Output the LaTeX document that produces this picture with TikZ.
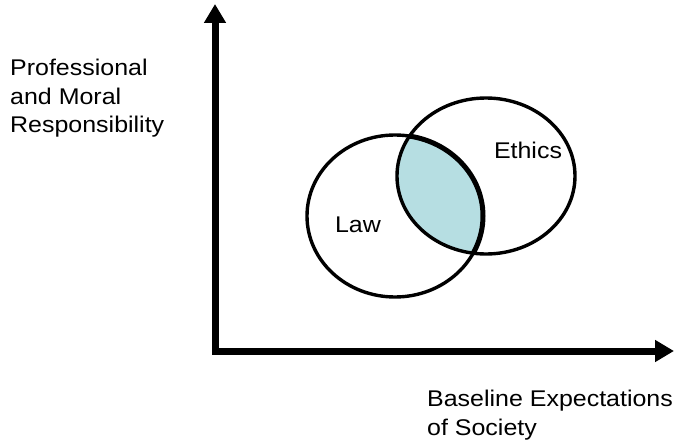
\documentclass[tikz,border=0pt]{standalone}
\usepackage{fontspec}
\setmainfont{Liberation Sans}[FakeStretch=1.1]
\usetikzlibrary{arrows.meta}
\definecolor{lens}{RGB}{182,222,226}
\tikzset{
  axis/.style={line width=7pt, {Triangle[length=19pt,width=21pt]}-{Triangle[length=19pt,width=21pt]}},
  venn/.style={line width=3.4pt},
  lbl/.style={inner sep=0pt, font=\fontsize{22.7}{28.5}\selectfont, align=left},
}
\begin{document}
\begin{tikzpicture}[x=1pt,y=-1pt]
\useasboundingbox (0,0) rectangle (675,444);
\fill[white] (0,0) rectangle (675,444);
% axes
\coordinate (ytip) at (215,4);
\coordinate (orig) at (215,351);
\coordinate (xtip) at (674,351);
\draw[axis] (ytip) -- (orig) -- (xtip);
% lens
\begin{scope}
  \clip (395,216) ellipse [x radius=88, y radius=81];
  \fill[lens] (486,176) ellipse [x radius=89, y radius=78];
\end{scope}
\draw[venn] (395,216) ellipse [x radius=88, y radius=81];
\draw[venn] (486,176) ellipse [x radius=89, y radius=78];
\begin{scope}
  \clip (486,176) ellipse [x radius=89, y radius=78];
  \draw[line width=5pt] (395,216) ellipse [x radius=88, y radius=81];
\end{scope}
% labels
\node[lbl, anchor=center] (law) at (358,225) {Law};
\node[lbl, anchor=center] (ethics) at (528,150) {Ethics};
\node[lbl, anchor=north west] (yl) at (10,59) {Professional\\and Moral\\Responsibility};
\node[lbl, anchor=north west] (xl) at (427,390) {Baseline Expectations\\of Society};
\end{tikzpicture}
\end{document}
